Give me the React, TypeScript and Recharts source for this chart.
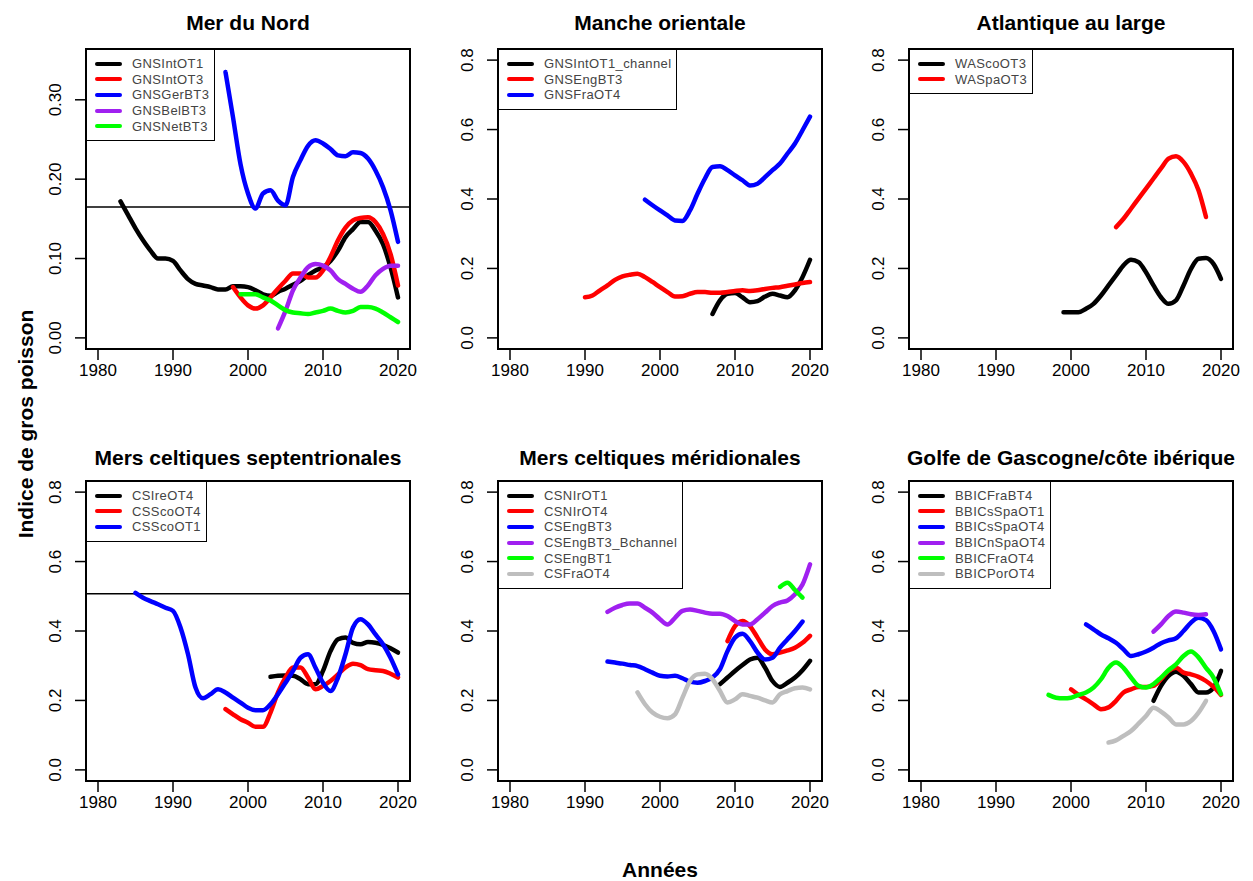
import { LineChart, Line, XAxis, YAxis, ReferenceLine, ReferenceArea } from 'recharts';

const FONT = '"Liberation Sans", Arial, Helvetica, sans-serif';

// axes
const yearTicks = [1980, 1990, 2000, 2010, 2020];
const smallTicks = [0, 0.1, 0.2, 0.3];
const bigTicks = [0, 0.2, 0.4, 0.6, 0.8];

// Mer du Nord
const gnsIntOT1 = [0.172, 0.155, 0.138, 0.123, 0.110, 0.100, 0.100, 0.097, 0.085, 0.074, 0.068, 0.066, 0.064, 0.061, 0.061, 0.065, 0.065, 0.064, 0.060, 0.055, 0.053, 0.058, 0.062, 0.067, 0.072, 0.079, 0.085, 0.089, 0.097, 0.110, 0.127, 0.137, 0.146, 0.146, 0.135, 0.118, 0.089, 0.051];
const gnsIntOT3 = [0.064, 0.051, 0.041, 0.037, 0.041, 0.051, 0.062, 0.072, 0.081, 0.081, 0.076, 0.076, 0.085, 0.102, 0.123, 0.139, 0.148, 0.151, 0.152, 0.146, 0.131, 0.106, 0.066];
const gnsGerBT3 = [0.335, 0.278, 0.219, 0.182, 0.163, 0.182, 0.186, 0.173, 0.167, 0.203, 0.224, 0.242, 0.249, 0.245, 0.238, 0.230, 0.229, 0.234, 0.233, 0.226, 0.211, 0.190, 0.161, 0.121];
const gnsBelBT3 = [0.012, 0.034, 0.060, 0.076, 0.089, 0.093, 0.091, 0.085, 0.074, 0.068, 0.062, 0.058, 0.066, 0.079, 0.087, 0.091, 0.091];
const gnsNetBT3 = [0.055, 0.055, 0.055, 0.051, 0.047, 0.041, 0.035, 0.032, 0.031, 0.030, 0.032, 0.034, 0.037, 0.034, 0.032, 0.034, 0.039, 0.039, 0.037, 0.032, 0.026, 0.020];
const nordRef = 0.165;

// Manche orientale
const gnsIntOT1Channel = [0.069, 0.108, 0.127, 0.129, 0.117, 0.103, 0.106, 0.119, 0.127, 0.122, 0.117, 0.137, 0.175, 0.225];
const gnsEngBT3 = [0.117, 0.122, 0.137, 0.151, 0.167, 0.177, 0.182, 0.185, 0.175, 0.161, 0.146, 0.132, 0.119, 0.120, 0.127, 0.132, 0.132, 0.130, 0.130, 0.132, 0.135, 0.137, 0.135, 0.137, 0.141, 0.144, 0.146, 0.150, 0.154, 0.158, 0.161];
const gnsFraOT4 = [0.398, 0.382, 0.367, 0.353, 0.338, 0.337, 0.367, 0.415, 0.459, 0.492, 0.494, 0.483, 0.468, 0.454, 0.439, 0.444, 0.463, 0.483, 0.502, 0.531, 0.560, 0.598, 0.637];

// Atlantique au large
const wasScoOT3 = [0.074, 0.074, 0.074, 0.084, 0.098, 0.122, 0.151, 0.180, 0.209, 0.225, 0.218, 0.189, 0.151, 0.117, 0.098, 0.108, 0.151, 0.199, 0.228, 0.230, 0.213, 0.170];
const wasSpaOT3 = [0.319, 0.343, 0.372, 0.401, 0.430, 0.459, 0.488, 0.516, 0.523, 0.507, 0.473, 0.425, 0.348];

// Mers celtiques septentrionales
const csIreOT4 = [0.268, 0.271, 0.272, 0.271, 0.261, 0.247, 0.247, 0.285, 0.342, 0.376, 0.381, 0.366, 0.362, 0.368, 0.366, 0.360, 0.350, 0.338];
const csScoOT4 = [0.175, 0.160, 0.146, 0.136, 0.124, 0.124, 0.165, 0.223, 0.266, 0.295, 0.295, 0.266, 0.232, 0.242, 0.256, 0.275, 0.295, 0.306, 0.302, 0.290, 0.287, 0.285, 0.277, 0.266];
const csScoOT1 = [0.510, 0.496, 0.486, 0.477, 0.467, 0.458, 0.410, 0.333, 0.237, 0.206, 0.218, 0.232, 0.223, 0.208, 0.194, 0.179, 0.172, 0.172, 0.189, 0.218, 0.251, 0.285, 0.323, 0.333, 0.294, 0.251, 0.227, 0.266, 0.333, 0.410, 0.434, 0.419, 0.390, 0.362, 0.323, 0.275];
const septRef = 0.507;

// Mers celtiques méridionales
const csNIrOT1 = [0.247, 0.266, 0.285, 0.302, 0.318, 0.323, 0.295, 0.256, 0.239, 0.251, 0.266, 0.287, 0.314];
const csNIrOT4 = [0.371, 0.414, 0.429, 0.414, 0.381, 0.347, 0.333, 0.338, 0.344, 0.352, 0.366, 0.386];
const csEngBT3 = [0.312, 0.309, 0.306, 0.302, 0.299, 0.290, 0.280, 0.271, 0.269, 0.271, 0.264, 0.254, 0.251, 0.256, 0.266, 0.290, 0.342, 0.381, 0.392, 0.371, 0.338, 0.318, 0.323, 0.352, 0.376, 0.400, 0.427];
const csEngBT3Bchannel = [0.455, 0.467, 0.475, 0.479, 0.479, 0.467, 0.453, 0.434, 0.419, 0.438, 0.458, 0.462, 0.458, 0.453, 0.450, 0.450, 0.443, 0.429, 0.419, 0.419, 0.434, 0.453, 0.472, 0.482, 0.488, 0.506, 0.534, 0.592];
const csEngBT1 = [0.527, 0.539, 0.518, 0.496];
const csFraOT4 = [0.223, 0.189, 0.165, 0.153, 0.149, 0.160, 0.208, 0.256, 0.275, 0.277, 0.261, 0.227, 0.194, 0.203, 0.218, 0.213, 0.208, 0.200, 0.194, 0.218, 0.227, 0.235, 0.237, 0.232];

// Golfe de Gascogne / côte ibérique
const bbicFraBT4 = [0.199, 0.242, 0.271, 0.283, 0.271, 0.247, 0.223, 0.223, 0.237, 0.285];
const bbicCsSpaOT1 = [0.232, 0.216, 0.203, 0.189, 0.175, 0.180, 0.199, 0.223, 0.232, 0.239, 0.239, 0.242, 0.261, 0.285, 0.294, 0.280, 0.275, 0.268, 0.256, 0.239, 0.216];
const bbicCsSpaOT4 = [0.419, 0.405, 0.390, 0.379, 0.366, 0.347, 0.328, 0.333, 0.341, 0.352, 0.365, 0.373, 0.379, 0.400, 0.424, 0.438, 0.431, 0.400, 0.347];
const bbicCnSpaOT4 = [0.398, 0.419, 0.443, 0.456, 0.453, 0.448, 0.446, 0.448];
const bbicFraOT4 = [0.216, 0.208, 0.206, 0.208, 0.216, 0.223, 0.237, 0.261, 0.294, 0.309, 0.294, 0.266, 0.242, 0.237, 0.247, 0.266, 0.287, 0.304, 0.328, 0.341, 0.324, 0.294, 0.266, 0.218];
const bbicPorOT4 = [0.079, 0.085, 0.098, 0.112, 0.133, 0.155, 0.179, 0.168, 0.151, 0.131, 0.131, 0.141, 0.165, 0.199];

const BLACK = '#000000';
const RED = '#FF0000';
const BLUE = '#0000FF';
const PURPLE = '#A020F0';
const GREEN = '#00FF00';
const GRAY = '#BEBEBE';

interface Series {
  name: string;
  color: string;
  start: number;
  values: number[];
}

interface Panel {
  title: string;
  col: number;
  row: number;
  small?: boolean;
  refY?: number;
  series: Series[];
}

const panels: Panel[] = [
  {
    title: 'Mer du Nord', col: 0, row: 0, small: true, refY: nordRef,
    series: [
      { name: 'GNSIntOT1', color: BLACK, start: 1983, values: gnsIntOT1 },
      { name: 'GNSIntOT3', color: RED, start: 1998, values: gnsIntOT3 },
      { name: 'GNSGerBT3', color: BLUE, start: 1997, values: gnsGerBT3 },
      { name: 'GNSBelBT3', color: PURPLE, start: 2004, values: gnsBelBT3 },
      { name: 'GNSNetBT3', color: GREEN, start: 1999, values: gnsNetBT3 },
    ],
  },
  {
    title: 'Manche orientale', col: 1, row: 0,
    series: [
      { name: 'GNSIntOT1_channel', color: BLACK, start: 2007, values: gnsIntOT1Channel },
      { name: 'GNSEngBT3', color: RED, start: 1990, values: gnsEngBT3 },
      { name: 'GNSFraOT4', color: BLUE, start: 1998, values: gnsFraOT4 },
    ],
  },
  {
    title: 'Atlantique au large', col: 2, row: 0,
    series: [
      { name: 'WAScoOT3', color: BLACK, start: 1999, values: wasScoOT3 },
      { name: 'WASpaOT3', color: RED, start: 2006, values: wasSpaOT3 },
    ],
  },
  {
    title: 'Mers celtiques septentrionales', col: 0, row: 1, refY: septRef,
    series: [
      { name: 'CSIreOT4', color: BLACK, start: 2003, values: csIreOT4 },
      { name: 'CSScoOT4', color: RED, start: 1997, values: csScoOT4 },
      { name: 'CSScoOT1', color: BLUE, start: 1985, values: csScoOT1 },
    ],
  },
  {
    title: 'Mers celtiques méridionales', col: 1, row: 1,
    series: [
      { name: 'CSNIrOT1', color: BLACK, start: 2008, values: csNIrOT1 },
      { name: 'CSNIrOT4', color: RED, start: 2009, values: csNIrOT4 },
      { name: 'CSEngBT3', color: BLUE, start: 1993, values: csEngBT3 },
      { name: 'CSEngBT3_Bchannel', color: PURPLE, start: 1993, values: csEngBT3Bchannel },
      { name: 'CSEngBT1', color: GREEN, start: 2016, values: csEngBT1 },
      { name: 'CSFraOT4', color: GRAY, start: 1997, values: csFraOT4 },
    ],
  },
  {
    title: 'Golfe de Gascogne/côte ibérique', col: 2, row: 1,
    series: [
      { name: 'BBICFraBT4', color: BLACK, start: 2011, values: bbicFraBT4 },
      { name: 'BBICsSpaOT1', color: RED, start: 2000, values: bbicCsSpaOT1 },
      { name: 'BBICsSpaOT4', color: BLUE, start: 2002, values: bbicCsSpaOT4 },
      { name: 'BBICnSpaOT4', color: PURPLE, start: 2011, values: bbicCnSpaOT4 },
      { name: 'BBICFraOT4', color: GREEN, start: 1997, values: bbicFraOT4 },
      { name: 'BBICPorOT4', color: GRAY, start: 2005, values: bbicPorOT4 },
    ],
  },
];

// layout (page pixels)
const COL_X = [86, 498, 909];
const ROW_Y = [49, 481];
const BOX_W = 324;
const BOX_H = 300;
const LEFT = 75;
const TOP = 5;
const RIGHT = 10;
const BOTTOM = 50;

const X_DOMAIN: [number, number] = [1978.4, 2021.6];
const BIG_DOMAIN: [number, number] = [-0.032, 0.832];
const SMALL_DOMAIN: [number, number] = [-0.014, 0.364];

const XTick = (props: any) => {
  const { x, y, payload } = props;
  return (
    <text x={x} y={y + 13} textAnchor="middle" fontSize={17} fill="#000" fontFamily={FONT}>
      {payload.value}
    </text>
  );
};

const YTick = (props: any) => {
  const { x, y, payload, digits } = props;
  return (
    <text
      x={x}
      y={y}
      transform={`rotate(-90 ${x} ${y})`}
      textAnchor="middle"
      fontSize={17}
      fill="#000"
      fontFamily={FONT}
    >
      {Number(payload.value).toFixed(digits)}
    </text>
  );
};

const PanelChart = ({ panel }: { panel: Panel }) => {
  const bx = COL_X[panel.col];
  const by = ROW_Y[panel.row];
  const yDomain = panel.small ? SMALL_DOMAIN : BIG_DOMAIN;
  const yTicks = panel.small ? smallTicks : bigTicks;
  return (
    <>
      <div style={{ position: 'absolute', left: bx - LEFT, top: by - TOP }}>
        <LineChart
          width={LEFT + BOX_W + RIGHT}
          height={TOP + BOX_H + BOTTOM}
          margin={{ top: TOP, right: RIGHT, bottom: 0, left: 0 }}
        >
          <XAxis
            type="number"
            dataKey="year"
            domain={X_DOMAIN}
            ticks={yearTicks}
            allowDataOverflow
            height={BOTTOM}
            tickSize={11}
            tickMargin={3}
            axisLine={{ stroke: '#000', strokeWidth: 1.5 }}
            tickLine={{ stroke: '#000', strokeWidth: 1.5 }}
            tick={<XTick />}
          />
          <YAxis
            type="number"
            domain={yDomain}
            ticks={yTicks}
            allowDataOverflow
            width={LEFT}
            tickSize={11}
            tickMargin={14}
            axisLine={{ stroke: '#000', strokeWidth: 1.5 }}
            tickLine={{ stroke: '#000', strokeWidth: 1.5 }}
            tick={<YTick digits={panel.small ? 2 : 1} />}
          />
          <ReferenceArea
            x1={X_DOMAIN[0]}
            x2={X_DOMAIN[1]}
            y1={yDomain[0]}
            y2={yDomain[1]}
            fill="none"
            fillOpacity={0}
            stroke="#000"
            strokeWidth={2}
            ifOverflow="visible"
          />
          {panel.refY !== undefined && (
            <ReferenceLine y={panel.refY} stroke="#000" strokeWidth={1.5} />
          )}
          {panel.series.map((s) => (
            <Line
              key={s.name}
              data={s.values.map((v, i) => ({ year: s.start + i, value: v }))}
              dataKey="value"
              name={s.name}
              type="monotone"
              stroke={s.color}
              strokeWidth={4.5}
              strokeLinecap="round"
              strokeLinejoin="round"
              dot={false}
              activeDot={false}
              isAnimationActive={false}
            />
          ))}
        </LineChart>
      </div>
      <div
        style={{
          position: 'absolute',
          left: bx,
          top: by,
          background: '#fff',
          border: '1.5px solid #000',
          padding: '6px 5px 6px 0',
          fontFamily: FONT,
        }}
      >
        {panel.series.map((s) => (
          <div key={s.name} style={{ display: 'flex', alignItems: 'center', height: 15.6 }}>
            <div style={{ marginLeft: 8, width: 27, height: 4, background: s.color, borderRadius: 2 }} />
            <span style={{ marginLeft: 10, fontSize: 13, color: '#444', letterSpacing: 0.4, whiteSpace: 'nowrap' }}>
              {s.name}
            </span>
          </div>
        ))}
      </div>
    </>
  );
};

const App = () => {
  return (
    <div
      style={{
        position: 'absolute',
        left: 0,
        top: 0,
        width: 1253,
        height: 881,
        background: '#fff',
        fontFamily: FONT,
        overflow: 'hidden',
      }}
    >
      {panels.map((p) => (
        <PanelChart key={p.title} panel={p} />
      ))}
      <svg width={1253} height={881} style={{ position: 'absolute', left: 0, top: 0, pointerEvents: 'none' }}>
        {panels.map((p) => (
          <text
            key={p.title}
            x={COL_X[p.col] + BOX_W / 2}
            y={p.row === 0 ? 30 : 465}
            textAnchor="middle"
            fontSize={21}
            fontWeight="bold"
            fontFamily={FONT}
            fill="#000"
          >
            {p.title}
          </text>
        ))}
        <text
          x={33}
          y={424}
          transform="rotate(-90 33 424)"
          textAnchor="middle"
          fontSize={21}
          fontWeight="bold"
          fontFamily={FONT}
          fill="#000"
        >
          Indice de gros poisson
        </text>
        <text x={660} y={877} textAnchor="middle" fontSize={21} fontWeight="bold" fontFamily={FONT} fill="#000">
          Années
        </text>
      </svg>
    </div>
  );
};

export default App;
